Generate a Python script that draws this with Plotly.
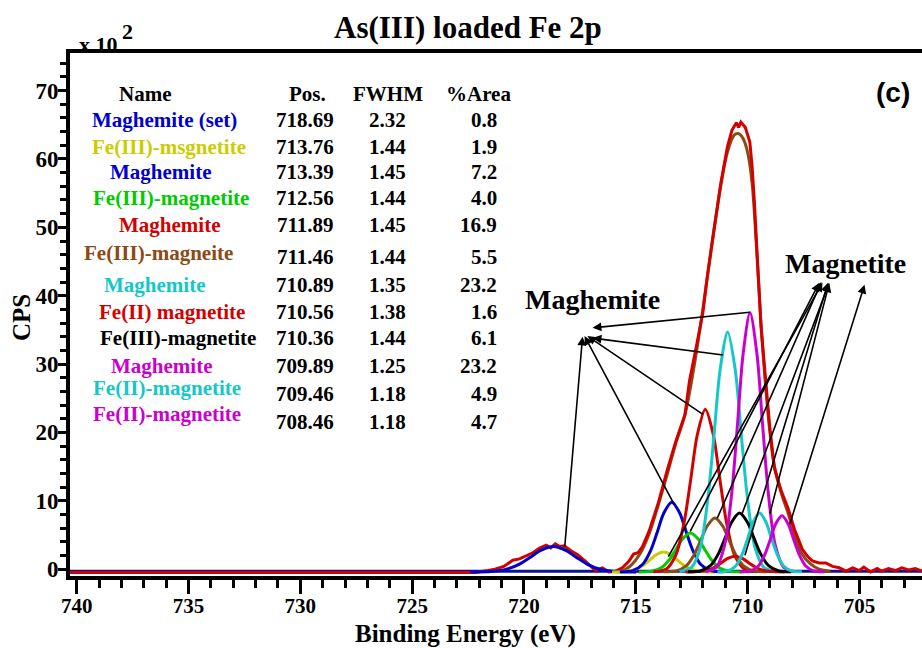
import plotly.graph_objects as go

# ---------------- data ----------------
names = ["Maghemite (set)", "Fe(III)-msgnetite", "Maghemite", "Fe(III)-magnetite", "Maghemite",
         "Fe(III)-magneite", "Maghemite", "Fe(II) magnetite", "Fe(III)-magnetite", "Maghemite",
         "Fe(II)-magnetite", "Fe(II)-magnetite"]
pos_txt = ["718.69", "713.76", "713.39", "712.56", "711.89", "711.46", "710.89", "710.56", "710.36",
           "709.89", "709.46", "708.46"]
fwhm_txt = ["2.32", "1.44", "1.45", "1.44", "1.45", "1.44", "1.35", "1.38", "1.44", "1.25", "1.18", "1.18"]
area_txt = ["0.8", "1.9", "7.2", "4.0", "16.9", "5.5", "23.2", "1.6", "6.1", "23.2", "4.9", "4.7"]

BLUE, YEL, GRN, RED, BRN, CYN, BLK, MAG = "#0000CC", "#CCCC00", "#00CC00", "#D40000", "#8C4A14", "#14C8C8", "#000000", "#CC00CC"
colors = [BLUE, YEL, BLUE, GRN, RED, BRN, CYN, RED, BLK, MAG, CYN, MAG]

# fitted components
c1_x = [714.98, 715.91, 716.60, 717.18, 717.65, 718.11, 718.69, 719.27, 719.73, 720.20, 720.78, 721.47, 722.40]
c1_y = [-0.40, -0.33, -0.01, 0.75, 1.71, 2.71, 3.30, 2.71, 1.71, 0.75, -0.01, -0.33, -0.40]
c2_x = [711.46, 712.03, 712.46, 712.82, 713.11, 713.40, 713.76, 714.12, 714.41, 714.70, 715.06, 715.49, 716.06]
c2_y = [-0.40, -0.35, -0.09, 0.50, 1.25, 2.04, 2.50, 2.04, 1.25, 0.50, -0.09, -0.35, -0.40]
c3_x = [711.07, 711.65, 712.09, 712.45, 712.74, 713.03, 713.39, 713.75, 714.04, 714.33, 714.70, 715.13, 715.71]
c3_y = [-0.39, -0.21, 0.68, 2.76, 5.41, 8.18, 9.80, 8.18, 5.41, 2.76, 0.68, -0.21, -0.39]
c4_x = [710.26, 710.83, 711.26, 711.62, 711.91, 712.20, 712.56, 712.92, 713.21, 713.50, 713.86, 714.29, 714.86]
c4_y = [-0.40, -0.29, 0.20, 1.37, 2.85, 4.39, 5.30, 4.39, 2.85, 1.37, 0.20, -0.29, -0.40]
c5_x = [709.57, 710.15, 710.59, 710.95, 711.24, 711.53, 711.89, 712.25, 712.54, 712.83, 713.20, 713.63, 714.21]
c5_y = [-0.38, 0.04, 2.12, 6.98, 13.17, 19.62, 23.40, 19.62, 13.17, 6.98, 2.12, 0.04, -0.38]
c6_x = [709.16, 709.73, 710.16, 710.52, 710.81, 711.10, 711.46, 711.82, 712.11, 712.40, 712.76, 713.19, 713.76]
c6_y = [-0.39, -0.25, 0.44, 2.05, 4.10, 6.24, 7.50, 6.24, 4.10, 2.05, 0.44, -0.25, -0.39]
c7_x = [708.73, 709.27, 709.68, 710.01, 710.28, 710.55, 710.89, 711.23, 711.50, 711.77, 712.10, 712.51, 713.05]
c7_y = [-0.37, 0.25, 3.32, 10.48, 19.61, 29.12, 34.70, 29.12, 19.61, 10.48, 3.32, 0.25, -0.37]
c8_x = [708.35, 708.90, 709.32, 709.66, 709.94, 710.22, 710.56, 710.91, 711.18, 711.46, 711.80, 712.22, 712.77]
c8_y = [-0.40, -0.36, -0.16, 0.31, 0.91, 1.53, 1.90, 1.53, 0.91, 0.31, -0.16, -0.36, -0.40]
c9_x = [708.06, 708.63, 709.06, 709.42, 709.71, 710.00, 710.36, 710.72, 711.01, 711.30, 711.66, 712.09, 712.66]
c9_y = [-0.39, -0.24, 0.51, 2.27, 4.50, 6.83, 8.20, 6.83, 4.50, 2.27, 0.51, -0.24, -0.39]
c10_x = [707.89, 708.39, 708.77, 709.08, 709.33, 709.58, 709.89, 710.20, 710.45, 710.70, 711.02, 711.39, 711.89]
c10_y = [-0.37, 0.30, 3.62, 11.35, 21.20, 31.47, 37.50, 31.47, 21.20, 11.35, 3.62, 0.30, -0.37]
c11_x = [707.57, 708.04, 708.40, 708.69, 708.93, 709.17, 709.46, 709.76, 709.99, 710.23, 710.52, 710.88, 711.35]
c11_y = [-0.39, -0.24, 0.51, 2.27, 4.50, 6.83, 8.20, 6.83, 4.50, 2.27, 0.51, -0.24, -0.39]
c12_x = [706.57, 707.04, 707.40, 707.69, 707.93, 708.17, 708.46, 708.76, 708.99, 709.23, 709.52, 709.88, 710.35]
c12_y = [-0.39, -0.25, 0.47, 2.14, 4.27, 6.50, 7.80, 6.50, 4.27, 2.14, 0.47, -0.25, -0.39]

# envelope (brown)
env_x = [715.6, 715.2, 714.8, 714.4, 714.0, 713.6, 713.2, 712.8, 712.4, 712.0, 711.6, 711.2, 710.9, 710.6,
         710.4, 710.2, 710.0, 709.8, 709.6, 709.4, 709.2, 709.0, 708.8, 708.5, 708.2, 707.9, 707.6, 707.2,
         706.8, 706.3]
env_y = [-0.3, 0.6, 2.3, 5.2, 9.3, 13.8, 18.5, 22.6, 29.5, 38.0, 47.5, 56.0, 61.0, 63.5,
         63.7, 63.0, 61.0, 56.5, 47.0, 36.0, 27.0, 20.0, 15.0, 11.2, 8.3, 5.0, 2.4, 0.8,
         0.0, -0.3]

# raw counts (red)
raw_x = [740.3, 722.2, 721.6, 721.3, 720.9, 720.5, 720.2, 719.9, 719.6, 719.3, 719.0, 718.8, 718.6, 718.4,
         718.2, 717.9, 717.6, 717.3, 717.0, 716.8, 716.5, 716.2, 715.9, 715.6, 715.3, 715.1, 714.9, 714.7,
         714.4, 714.0, 713.6, 713.2, 712.8, 712.6, 712.3, 712.0, 711.8, 711.5, 711.2, 710.9, 710.7, 710.5,
         710.4, 710.3, 710.1, 709.9, 709.8, 709.7, 709.55, 709.4, 709.2, 709.0, 708.8, 708.5, 708.2, 707.9,
         707.55, 707.3, 707.1, 706.8, 706.5, 706.2, 705.9, 705.6, 705.3, 705.0, 704.8, 704.5, 704.2, 704.0,
         703.7, 703.4, 703.1, 702.8, 702.5, 702.2]
raw_y = [-0.5, -0.5, -0.2, 0.0, 0.4, 1.3, 1.5, 2.0, 2.4, 3.1, 3.5, 3.1, 3.7, 3.3,
         3.4, 2.7, 2.1, 1.3, 0.4, -0.2, 0.2, -0.4, -0.3, 0.2, 1.2, 2.2, 2.4, 3.3,
         5.6, 9.6, 14.4, 18.8, 22.6, 27.5, 32.4, 37.5, 42.8, 49.8, 56.4, 61.8, 64.2, 65.3,
         64.6, 65.4, 64.6, 62.5, 59.0, 54.0, 44.0, 35.5, 28.0, 20.5, 14.8, 11.5, 9.0, 5.8,
         2.9, 1.8, 1.2, 0.9, 0.9, 0.4, 0.2, -0.3, 0.2, -0.2, 0.3, -0.4, 0.1, -0.3,
         0.1, -0.2, 0.2, -0.1, 0.1, -0.3]

base_x = [740.3, 702.2]
base_y = [-0.3, -0.3]

x_ticks = [740, 735, 730, 725, 720, 715, 710, 705]
y_ticks = [0, 10, 20, 30, 40, 50, 60, 70]

# arrows: (tail x, tail y, tip x, tip y) in data units
magh_arrows = [(709.83, 37.6, 716.93, 35.3), (711.03, 31.3, 716.93, 33.8), (711.93, 22.5, 717.16, 34.1),
               (713.27, 9.4, 717.29, 34.1), (718.18, 3.1, 717.38, 34.0)]
magn_arrows = [(713.58, 1.6, 706.65, 41.9), (712.60, 5.3, 706.79, 41.9), (711.39, 7.2, 706.70, 42.0),
               (710.14, 1.8, 706.40, 41.9), (710.27, 7.9, 706.35, 41.9), (709.02, 7.9, 706.35, 41.8),
               (708.13, 6.4, 704.77, 41.6)]

# ---------------- figure ----------------
W, H = 922, 648
L, R, T, B = 70, 0, 53, 72
SERIF = "Liberation Serif, Times New Roman, serif"

fig = go.Figure()
fig.add_trace(go.Scatter(x=base_x, y=base_y, mode="lines", line=dict(color="#101090", width=3), hoverinfo="skip"))
fig.add_trace(go.Scatter(x=env_x, y=env_y, mode="lines", line=dict(color=BRN, width=3, shape="spline"), hoverinfo="skip"))
fig.add_trace(go.Scatter(x=raw_x, y=raw_y, mode="lines", line=dict(color=RED, width=3), hoverinfo="skip"))

comps = [(c1_x, c1_y), (c2_x, c2_y), (c3_x, c3_y), (c4_x, c4_y), (c5_x, c5_y), (c6_x, c6_y),
         (c7_x, c7_y), (c8_x, c8_y), (c9_x, c9_y), (c10_x, c10_y), (c11_x, c11_y), (c12_x, c12_y)]
for (cx, cy), col in zip(comps, colors):
    fig.add_trace(go.Scatter(x=cx, y=cy, mode="lines",
                             line=dict(color=col, width=3, shape="spline", smoothing=0.8),
                             hoverinfo="skip"))

def px2paper_x(p):
    return (p - L) / (W - L - R)

def px2paper_y(p):
    return (H - B - p) / (H - T - B)

ann = []
def txt(px, py, s, size, color="black", xanchor="center", family=SERIF, angle=0):
    ann.append(dict(x=px2paper_x(px), y=px2paper_y(py), xref="paper", yref="paper", text="<b>%s</b>" % s,
                    showarrow=False, xanchor=xanchor, yanchor="middle", textangle=angle,
                    font=dict(family=family, size=size, color=color)))

# titles
txt(468, 27, "As(III) loaded Fe 2p", 31)
txt(465, 634, "Binding Energy (eV)", 25)
txt(22, 318, "CPS", 25, angle=-90)
txt(77, 45, "x 10", 22, xanchor="left")
txt(127, 32, "2", 22)
txt(893, 92, "(c)", 28, family="Liberation Sans, Arial, sans-serif")

# table
TS = 21
txt(145, 94, "Name", TS)
txt(307, 94, "Pos.", TS)
txt(388, 94, "FWHM", TS)
txt(478, 94, "%Area", TS)
name_y = [120, 147, 172, 198, 225, 253, 285, 312, 338, 366, 388, 414]
num_y = [120, 147, 172, 198, 225, 257, 285, 312, 338, 366, 394, 422]
name_cx = [164, 169, 160, 171, 169, 158, 154, 172, 178, 161, 167, 167]
for i in range(len(names)):
    txt(name_cx[i], name_y[i], names[i], TS, colors[i])
    txt(305, num_y[i], pos_txt[i], TS)
    txt(387, num_y[i], fwhm_txt[i], TS)
    txt(499, num_y[i], area_txt[i], TS, xanchor="right")

# group labels
txt(592, 299, "Maghemite", 28)
txt(845, 263, "Magnetite", 28)

for (ax_, ay_, x_, y_) in magh_arrows + magn_arrows:
    ann.append(dict(x=x_, y=y_, ax=ax_, ay=ay_, xref="x", yref="y", axref="x", ayref="y", text="",
                    showarrow=True, arrowhead=2, arrowsize=1.1, arrowwidth=1.6, arrowcolor="black", standoff=0))

fig.update_layout(
    width=W, height=H, margin=dict(l=L, r=R, t=T, b=B),
    paper_bgcolor="white", plot_bgcolor="white", showlegend=False,
    annotations=ann,
    xaxis=dict(range=[740.3, 702.2], tickvals=x_ticks, ticks="outside", ticklen=14, tickwidth=3,
               tickcolor="black", showline=True, linecolor="black", linewidth=4, mirror=True,
               showgrid=False, zeroline=False, ticklabelstandoff=-6,
               tickfont=dict(family=SERIF, size=21, color="black", weight="bold"),
               minor=dict(dtick=1, ticks="outside", ticklen=8, tickwidth=3, tickcolor="black", showgrid=False)),
    yaxis=dict(range=[-1.0, 75.5], tickvals=y_ticks, ticks="outside", ticklen=8, tickwidth=3,
               tickcolor="black", showline=True, linecolor="black", linewidth=4,
               showgrid=False, zeroline=False, ticklabelstandoff=-5,
               tickfont=dict(family=SERIF, size=23, color="black", weight="bold"),
               minor=dict(dtick=2, tick0=0, ticks="outside", ticklen=6, tickwidth=3, tickcolor="black", showgrid=False)),
)

fig.write_html("out.html")
